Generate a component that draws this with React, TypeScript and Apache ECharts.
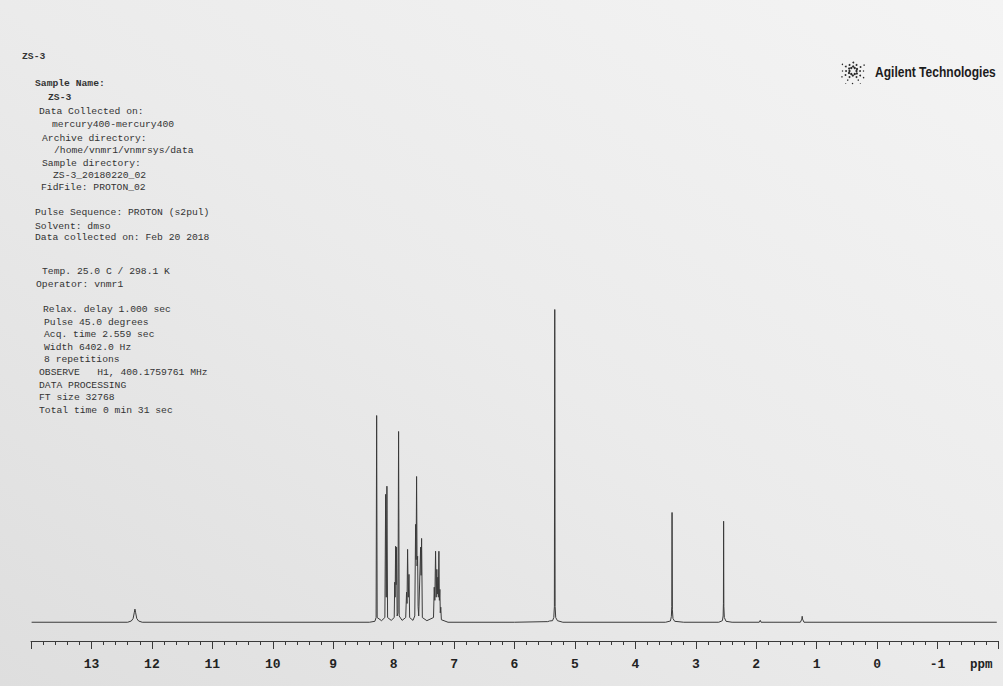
import React, { useEffect, useRef } from "react";
import * as echarts from "echarts";

// ---- axis settings (ppm, reversed) ----
const xMin = -2;
const xMax = 14;
const hiddenTickLabels = [14, -2];
const axisUnit = "ppm";

// ---- 1H NMR trace: [shift (ppm), intensity (tallest = 100)] ----
const spectrum: [number, number][] = [
  [13.99, 0], [12.4, 0], [12.34, 0.4], [12.31, 1.2], [12.29, 3.2], [12.28, 4.2], [12.27, 3.2],
  [12.25, 1.2], [12.22, 0.4], [12.16, 0],
  [8.4, 0], [8.31, 0.3], [8.29, 1.5], [8.281, 66.1], [8.272, 1.5], [8.2, 0.5],
  [8.145, 1.5], [8.132, 40.9], [8.122, 8], [8.111, 43.5], [8.1, 1.5], [8.04, 0.6],
  [7.99, 1.5], [7.982, 12.8], [7.975, 8], [7.967, 24.3], [7.959, 12], [7.951, 24.0], [7.942, 2],
  [7.928, 3], [7.918, 61.0], [7.908, 2], [7.86, 0.6],
  [7.8, 1.5], [7.786, 9.6], [7.778, 6], [7.769, 23.3], [7.758, 8], [7.746, 15.3], [7.735, 1.5], [7.68, 0.6],
  [7.65, 2], [7.636, 31.3], [7.628, 20], [7.62, 46.6], [7.612, 18], [7.603, 21.1], [7.595, 5],
  [7.585, 2], [7.553, 24.0], [7.545, 15], [7.537, 26.8], [7.525, 1.5], [7.45, 0.5],
  [7.34, 1.5], [7.328, 11.2], [7.318, 7], [7.306, 22.7], [7.296, 8], [7.285, 16.9], [7.277, 9],
  [7.268, 14.4], [7.26, 8], [7.251, 22.7], [7.243, 7], [7.235, 10.5], [7.228, 3], [7.22, 4.8],
  [7.21, 0.8], [7.1, 0],
  [6.0, 0], [5.45, 0.2], [5.42, 0.4], [5.37, 0.5], [5.35, 1.5], [5.34, 5], [5.334, 100], [5.328, 5],
  [5.318, 1.5], [5.29, 0.5], [5.2, 0],
  [3.5, 0], [3.42, 0.4], [3.405, 1.8], [3.397, 5], [3.393, 35.1], [3.388, 4], [3.378, 1.2], [3.35, 0.3], [3.2, 0],
  [2.62, 0], [2.56, 0.5], [2.548, 2], [2.543, 6], [2.54, 32.3], [2.536, 5], [2.528, 1.5], [2.5, 0.3], [2.4, 0],
  [1.95, 0], [1.934, 0.6], [1.92, 0],
  [1.27, 0], [1.245, 1.0], [1.24, 1.9], [1.234, 1.0], [1.21, 0],
  [-1.98, 0],
];

// ---- acquisition header text ----
const headerLines: [string, number, number, boolean][] = [
  ["ZS-3", 22, 56, true],
  ["Sample Name:", 35, 83, true],
  ["ZS-3", 48, 97, true],
  ["Data Collected on:", 39, 111, false],
  ["mercury400-mercury400", 52, 124, false],
  ["Archive directory:", 42, 138, false],
  ["/home/vnmr1/vnmrsys/data", 54, 150, false],
  ["Sample directory:", 42, 163, false],
  ["ZS-3_20180220_02", 53, 175, false],
  ["FidFile: PROTON_02", 41, 187, false],
  ["Pulse Sequence: PROTON (s2pul)", 35, 212, false],
  ["Solvent: dmso", 35, 226, false],
  ["Data collected on: Feb 20 2018", 35, 237, false],
  ["Temp. 25.0 C / 298.1 K", 42, 271, false],
  ["Operator: vnmr1", 36, 284, false],
  ["Relax. delay 1.000 sec", 43, 309, false],
  ["Pulse 45.0 degrees", 44, 322, false],
  ["Acq. time 2.559 sec", 44, 334, false],
  ["Width 6402.0 Hz", 44, 347, false],
  ["8 repetitions", 44, 359, false],
  ["OBSERVE   H1, 400.1759761 MHz", 39, 372, false],
  ["DATA PROCESSING", 39, 385, false],
  ["FT size 32768", 39, 397, false],
  ["Total time 0 min 31 sec", 39, 410, false],
];
const brandName = "Agilent Technologies";

export default function App() {
  const ref = useRef<HTMLDivElement>(null);
  useEffect(() => {
    const chart = echarts.init(ref.current!, null, { renderer: "svg" });
    const mono = '"Liberation Mono", "DejaVu Sans Mono", monospace';

    const graphic: any[] = headerLines.map(([t, x, y, bold]) => ({
      type: "text",
      x,
      y,
      silent: true,
      style: {
        text: t,
        font: `${bold ? "bold " : ""}9.7px ${mono}`,
        fill: "#333",
        verticalAlign: "middle",
      },
    }));

    // Agilent spark logo (decorative dots)
    const dots: any[] = [];
    const cx = 853, cy = 71;
    for (let k = 0; k < 12; k++) {
      const a = (k * Math.PI) / 6 + Math.PI / 12 * (k % 2 ? 0.15 : 0);
      const radii = k % 2 ? [4.5, 8.5, 12.5] : [3.5, 7, 10.5, 14.5];
      radii.forEach((r, i) => {
        dots.push({
          type: "circle",
          shape: { cx: cx + r * Math.cos(a), cy: cy + r * Math.sin(a), r: Math.max(0.45, 1.15 - i * 0.22) },
          style: { fill: "#2a2a2a" },
          silent: true,
        });
      });
    }
    graphic.push({ type: "group", children: dots, silent: true });
    graphic.push({
      type: "text",
      x: 875,
      y: 72,
      scaleX: 0.86,
      silent: true,
      style: {
        text: brandName,
        font: 'bold 14px "Liberation Sans", Arial, sans-serif',
        fill: "#1c1c1c",
        verticalAlign: "middle",
      },
    });
    graphic.push({
      type: "text",
      x: 970,
      y: 665,
      silent: true,
      style: {
        text: axisUnit,
        font: `bold 12.5px ${mono}`,
        fill: "#222",
        verticalAlign: "middle",
      },
    });

    chart.setOption({
      animation: false,
      backgroundColor: {
        type: "linear",
        x: 0,
        y: 1,
        x2: 1,
        y2: 0,
        colorStops: [
          { offset: 0, color: "#dedede" },
          { offset: 0.5, color: "#ebebeb" },
          { offset: 1, color: "#f4f4f4" },
        ],
      },
      grid: { left: 31, right: 5, top: 297, bottom: 45, containLabel: false },
      xAxis: {
        type: "value",
        min: xMin,
        max: xMax,
        interval: 1,
        inverse: true,
        axisLine: { show: true, onZero: false, lineStyle: { color: "#3a3a3a", width: 1 } },
        axisTick: { show: true, length: 8, lineStyle: { color: "#3a3a3a", width: 1 } },
        minorTick: { show: true, splitNumber: 5, length: 4, lineStyle: { color: "#3a3a3a", width: 1 } },
        splitLine: { show: false },
        axisLabel: {
          margin: 17,
          color: "#222",
          fontFamily: '"Liberation Mono", "DejaVu Sans Mono", monospace',
          fontWeight: "bold",
          fontSize: 13,
          formatter: (v: number) => (hiddenTickLabels.includes(v) ? "" : String(v)),
        },
      },
      yAxis: {
        type: "value",
        min: -6,
        max: 104,
        show: false,
        splitLine: { show: false },
      },
      series: [
        {
          type: "line",
          data: spectrum,
          showSymbol: false,
          symbol: "none",
          lineStyle: { color: "#3a3a3a", width: 1 },
          silent: true,
        },
      ],
      graphic,
    });
    return () => chart.dispose();
  }, []);
  return (
    <div
      ref={ref}
      style={{ position: "fixed", left: 0, top: 0, width: 1003, height: 686 }}
    />
  );
}
